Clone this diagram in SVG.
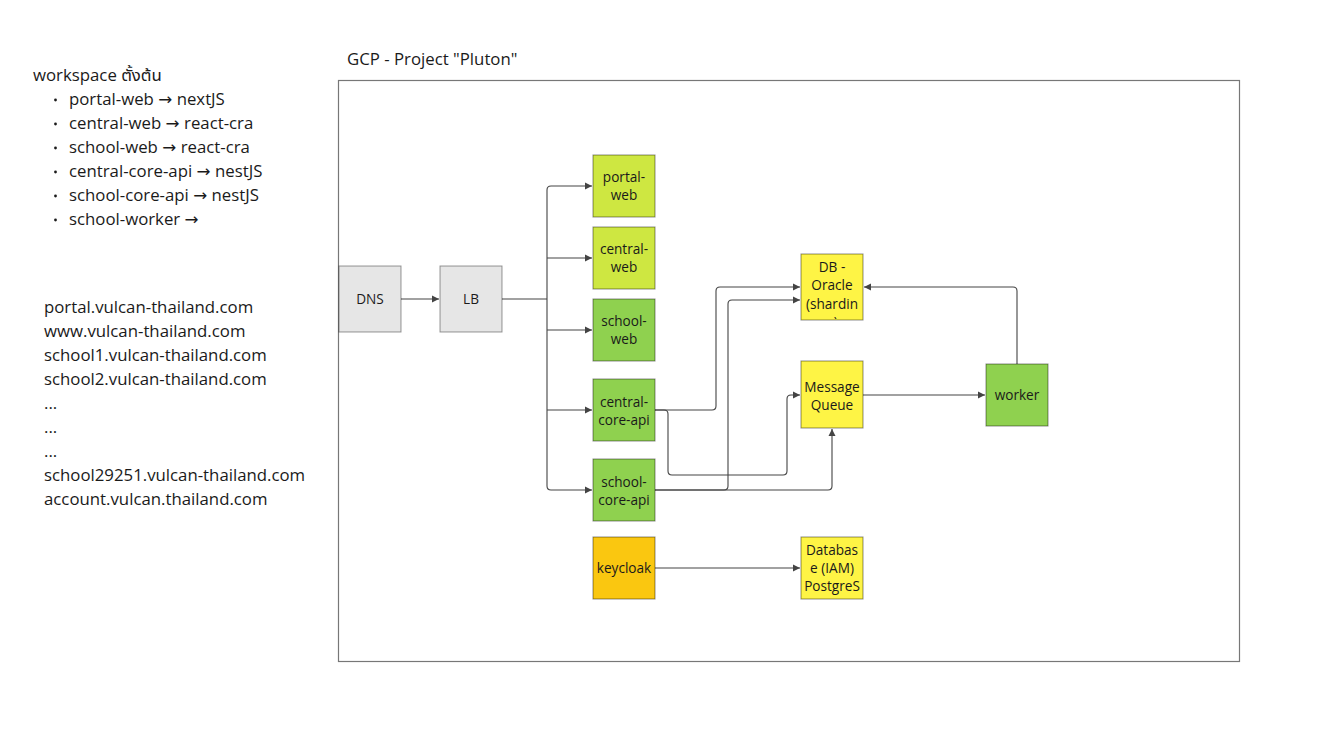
<svg xmlns="http://www.w3.org/2000/svg" width="1323" height="755" viewBox="0 0 1323 755">
<defs>
<style>
text{font-family:"Open Sans","Noto Sans","Noto Sans Thai","DejaVu Sans",sans-serif;fill:#1a1a1a}
.lt{font-size:16.8px}
.nt{font-size:13.6px;text-anchor:middle}
.box{stroke:#000;stroke-opacity:0.45;stroke-width:1}
.gray{fill:#e6e6e6;stroke:#000;stroke-opacity:0.4}
.lg{fill:#cee741}
.gr{fill:#8fd14f}
.ye{fill:#fef445}
.or{fill:#fac710}
.cn{fill:none;stroke:#444;stroke-width:1.1;stroke-linejoin:round}
</style>
<marker id="ah" markerWidth="8" markerHeight="8" refX="7" refY="4" orient="auto" markerUnits="userSpaceOnUse">
<path d="M0,0.5 L7,4 L0,7.5 Z" fill="#444"/>
</marker>
<clipPath id="dbclip"><rect x="801" y="254" width="62" height="65"/></clipPath>
</defs>
<rect width="1323" height="755" fill="#fff"/>

<g id="notes">
<text class="lt" x="33" y="81">workspace ตั้งต้น</text>
<g fill="#1a1a1a">
<circle cx="55.5" cy="100" r="1.4"/><circle cx="55.5" cy="124" r="1.4"/><circle cx="55.5" cy="148" r="1.4"/><circle cx="55.5" cy="172" r="1.4"/><circle cx="55.5" cy="196" r="1.4"/><circle cx="55.5" cy="220" r="1.4"/>
</g>
<text class="lt" x="69" y="105">portal-web → nextJS</text>
<text class="lt" x="69" y="129">central-web → react-cra</text>
<text class="lt" x="69" y="153">school-web → react-cra</text>
<text class="lt" x="69" y="177">central-core-api → nestJS</text>
<text class="lt" x="69" y="201">school-core-api → nestJS</text>
<text class="lt" x="69" y="225">school-worker →</text>
</g>

<g id="domains">
<text class="lt" x="44" y="313">portal.vulcan-thailand.com</text>
<text class="lt" x="44" y="337">www.vulcan-thailand.com</text>
<text class="lt" x="44" y="361">school1.vulcan-thailand.com</text>
<text class="lt" x="44" y="385">school2.vulcan-thailand.com</text>
<text class="lt" x="44" y="409">...</text>
<text class="lt" x="44" y="433">...</text>
<text class="lt" x="44" y="457">...</text>
<text class="lt" x="44" y="481">school29251.vulcan-thailand.com</text>
<text class="lt" x="44" y="505">account.vulcan.thailand.com</text>
</g>

<g id="gcp">
<text class="lt" x="347" y="65">GCP - Project "Pluton"</text>
<rect x="338.5" y="80.5" width="901" height="581" fill="none" stroke="#777" stroke-width="1.2"/>
</g>

<g id="connectors">
<path class="cn" d="M401,299 H439" marker-end="url(#ah)"/>
<path class="cn" d="M502,299 H547"/>
<path class="cn" d="M547,190 Q547,186 551,186 H592" marker-end="url(#ah)"/>
<path class="cn" d="M547,190 V486 Q547,490 551,490 H592" marker-end="url(#ah)"/>
<path class="cn" d="M547,258 H592" marker-end="url(#ah)"/>
<path class="cn" d="M547,330 H592" marker-end="url(#ah)"/>
<path class="cn" d="M547,410 H592" marker-end="url(#ah)"/>
<path class="cn" d="M655,410 H712 Q716,410 716,406 V291 Q716,287 720,287 H800" marker-end="url(#ah)"/>
<path class="cn" d="M655,410 H664 Q668,410 668,414 V471 Q668,475 672,475 H783 Q787,475 787,471 V399 Q787,395 791,395 H800" marker-end="url(#ah)"/>
<path class="cn" d="M655,490 H724 Q728,490 728,486 V304 Q728,300 732,300 H800" marker-end="url(#ah)"/>
<path class="cn" d="M655,490 H828 Q832,490 832,486 V429" marker-end="url(#ah)"/>
<path class="cn" d="M863,395 H985" marker-end="url(#ah)"/>
<path class="cn" d="M1017,364 V291 Q1017,287 1013,287 H864" marker-end="url(#ah)"/>
<path class="cn" d="M655,568 H800" marker-end="url(#ah)"/>
</g>

<g id="dns"><rect class="gray" x="339" y="266" width="62" height="66"/><text class="nt" x="370" y="304">DNS</text></g>
<g id="lb"><rect class="gray" x="440" y="266" width="62" height="66"/><text class="nt" x="471" y="304">LB</text></g>

<g id="portal-web"><rect class="box lg" x="593" y="155" width="62" height="62"/><text class="nt" x="624" y="182">portal-</text><text class="nt" x="624" y="200">web</text></g>
<g id="central-web"><rect class="box lg" x="593" y="227" width="62" height="62"/><text class="nt" x="624" y="254">central-</text><text class="nt" x="624" y="272">web</text></g>
<g id="school-web"><rect class="box gr" x="593" y="299" width="62" height="62"/><text class="nt" x="624" y="326">school-</text><text class="nt" x="624" y="344">web</text></g>
<g id="central-core-api"><rect class="box gr" x="593" y="379" width="62" height="62"/><text class="nt" x="624" y="407">central-</text><text class="nt" x="624" y="425">core-api</text></g>
<g id="school-core-api"><rect class="box gr" x="593" y="459" width="62" height="62"/><text class="nt" x="624" y="487">school-</text><text class="nt" x="624" y="505">core-api</text></g>
<g id="keycloak"><rect class="box or" x="593" y="537" width="62" height="62"/><text class="nt" x="624" y="573">keycloak</text></g>

<g id="db-oracle"><rect class="box ye" x="801" y="254" width="62" height="66"/>
<g clip-path="url(#dbclip)"><text class="nt" x="832" y="272">DB -</text><text class="nt" x="832" y="290">Oracle</text><text class="nt" x="832" y="309">(shardin</text><text class="nt" x="832" y="327">g)</text></g></g>
<g id="message-queue"><rect class="box ye" x="801" y="361" width="62" height="67"/><text class="nt" x="832" y="392">Message</text><text class="nt" x="832" y="410">Queue</text></g>
<g id="worker"><rect class="box gr" x="986" y="364" width="62" height="62"/><text class="nt" x="1017" y="400">worker</text></g>
<g id="database-iam"><rect class="box ye" x="801" y="537" width="62" height="62"/><text class="nt" x="832" y="555">Databas</text><text class="nt" x="832" y="573">e (IAM)</text><text class="nt" x="832" y="591">PostgreS</text></g>
</svg>
